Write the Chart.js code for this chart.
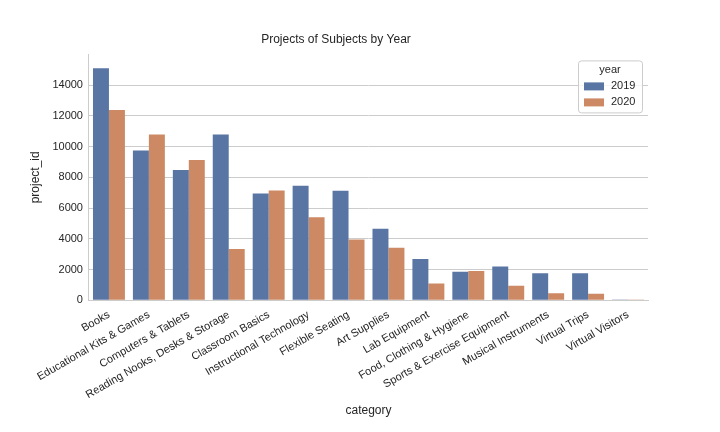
<!DOCTYPE html>
<html>
<head>
<meta charset="utf-8">
<script src="https://cdn.jsdelivr.net/npm/chart.js@4"></script>
<style>
  body { margin: 0; background: #fff; }
  #wrap { width: 720px; height: 432px; }
</style>
</head>
<body>
<div id="wrap"><canvas id="chart"></canvas></div>
<script>
const categories = ['Books', 'Educational Kits & Games', 'Computers & Tablets', 'Reading Nooks, Desks & Storage',
  'Classroom Basics', 'Instructional Technology', 'Flexible Seating', 'Art Supplies', 'Lab Equipment',
  'Food, Clothing & Hygiene', 'Sports & Exercise Equipment', 'Musical Instruments', 'Virtual Trips', 'Virtual Visitors'];
const years = ['2019', '2020'];
const values2019 = [15100, 9750, 8480, 10780, 6950, 7450, 7120, 4650, 2680, 1850, 2200, 1750, 1750, 20];
const values2020 = [12380, 10780, 9120, 3330, 7150, 5400, 3950, 3420, 1090, 1900, 950, 450, 430, 10];
const colors = ['#5975a4', '#cc8963'];
const FONT = 'Liberation Sans';

// Legend box drawn inside plot, upper right, like seaborn
const legendBox = {
  id: 'legendBox',
  afterDraw(chart) {
    const ctx = chart.ctx, a = chart.chartArea;
    const w = 64, h = 52, x = a.right - w - 6, y = a.top + 6;
    ctx.save();
    ctx.fillStyle = 'rgba(255,255,255,0.8)';
    ctx.strokeStyle = '#cccccc';
    ctx.lineWidth = 1;
    ctx.beginPath();
    ctx.roundRect(x + 0.5, y + 0.5, w, h, 3);
    ctx.fill(); ctx.stroke();
    ctx.font = '11px "' + FONT + '"';
    ctx.fillStyle = '#262626';
    ctx.textAlign = 'center';
    ctx.textBaseline = 'middle';
    ctx.fillText('year', x + w / 2, y + 10);
    ctx.textAlign = 'left';
    years.forEach((yr, i) => {
      const yy = y + 26 + i * 16;
      ctx.fillStyle = colors[i];
      ctx.fillRect(x + 6, yy - 4, 20, 8);
      ctx.fillStyle = '#262626';
      ctx.fillText(yr, x + 33, yy);
    });
    ctx.restore();
  }
};

new Chart(document.getElementById('chart'), {
  type: 'bar',
  data: {
    labels: categories,
    datasets: [
      { label: years[0], data: values2019, backgroundColor: colors[0] },
      { label: years[1], data: values2020, backgroundColor: colors[1] }
    ]
  },
  options: {
    responsive: true,
    maintainAspectRatio: false,
    animation: false,
    layout: { padding: { top: 6, right: 72, left: 24, bottom: 10 } },
    datasets: { bar: { categoryPercentage: 0.8, barPercentage: 1.0 } },
    scales: {
      x: {
        grid: { display: false },
        border: { color: '#cccccc' },
        ticks: { color: '#262626', font: { family: FONT, size: 11 }, minRotation: 30, maxRotation: 30, autoSkip: false, padding: 0 },
        title: { display: true, text: 'category', color: '#262626', font: { family: FONT, size: 12 }, padding: { top: 2 } }
      },
      y: {
        min: 0, max: 16000,
        grid: { color: '#cccccc', drawTicks: false },
        border: { color: '#cccccc' },
        afterBuildTicks(scale) { scale.ticks = scale.ticks.filter(t => t.value <= 14000); },
        ticks: { stepSize: 2000, color: '#262626', font: { family: FONT, size: 11 }, padding: 6, callback: v => String(v) },
        title: { display: true, text: 'project_id', color: '#262626', font: { family: FONT, size: 12 } }
      }
    },
    plugins: {
      legend: { display: false },
      tooltip: { enabled: false },
      title: { display: true, text: 'Projects of Subjects by Year', color: '#262626', font: { family: FONT, size: 12, weight: 'normal' }, padding: { top: 26, bottom: 8 } }
    }
  },
  plugins: [legendBox]
});
</script>
</body>
</html>
